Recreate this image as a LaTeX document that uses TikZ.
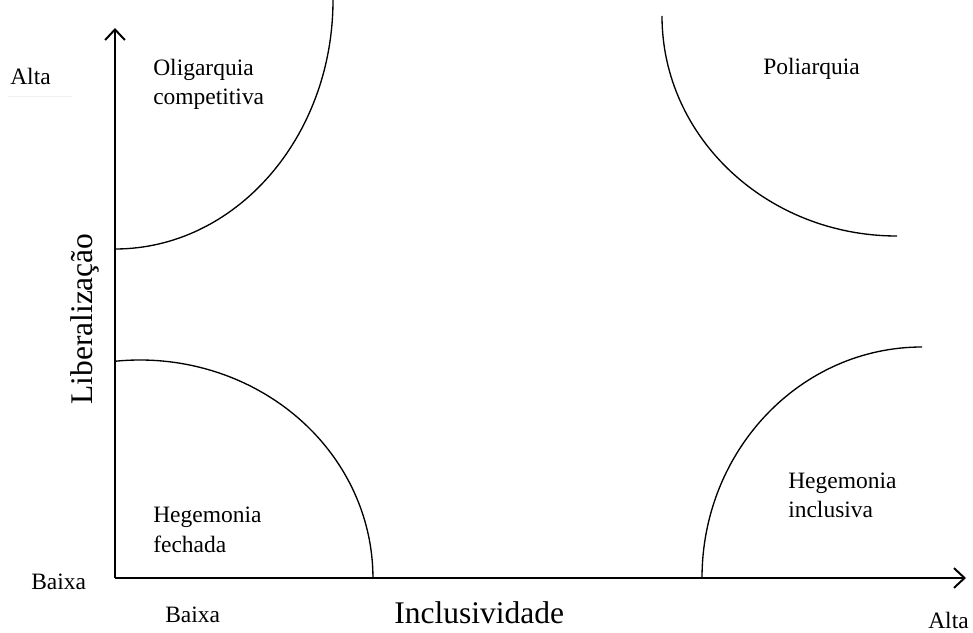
\documentclass[tikz,border=0pt]{standalone}
\usepackage{fontspec}
\setmainfont{Liberation Serif}
\usetikzlibrary{arrows.meta}

\tikzset{
  axis/.style={line width=1.4pt, -{Straight Barb[length=7.5pt, width=14pt, line width=1.4pt]}},
  region/.style={line width=0.95pt},
  lbl/.style={inner sep=0pt, anchor=base west, font=\fontsize{16.7}{21.3}\selectfont, align=left},
  axlbl/.style={inner sep=0pt, anchor=base west, font=\fontsize{22.4}{26}\selectfont}
}

\begin{document}
\begin{tikzpicture}[x=0.025cm, y=0.025cm]
        \useasboundingbox (0,0) rectangle (973,632);

        % Axes
        \coordinate (O) at (115,54);
        \coordinate (ytip) at (115,604);
        \coordinate (xtip) at (966,54);
        \draw[axis] (O) -- (ytip);
        \draw[axis] (O) -- (xtip);

        % Regions
        \draw[region] (115,383) arc[start angle=-90, end angle=0, x radius=218, y radius=249];
        \draw[region] (662,616) arc[start angle=180, end angle=270, x radius=235, y radius=220];
        \draw[region] (115.6,270.8) arc[start angle=96, end angle=0, x radius=233, y radius=218];
        \draw[region] (702,54) arc[start angle=180, end angle=90, x radius=220, y radius=231];

        % Axis labels
        \node[lbl] (altaY) at (10,547) {Alta};
        \draw[gray!12, line width=0.5pt] (8,536) -- (72,536);
        \node[lbl] (baixaY) at (31,43) {Baixa};
        \node[lbl] (baixaX) at (165,10) {Baixa};
        \node[lbl] (altaX) at (928,4) {Alta};
        \node[axlbl] (incl) at (394,9) {Inclusividade};
        \node[axlbl, rotate=90] (lib) at (92,227) {Liberalização};

        % Regime names (base = last line)
        \node[lbl] (olig) at (153,527) {Oligarquia\\competitiva};
        \node[lbl] (poli) at (763,557) {Poliarquia};
        \node[lbl] (hegf) at (153,80) {Hegemonia\\fechada};
        \node[lbl] (hegi) at (788,114) {Hegemonia\\inclusiva};
\end{tikzpicture}
\end{document}
